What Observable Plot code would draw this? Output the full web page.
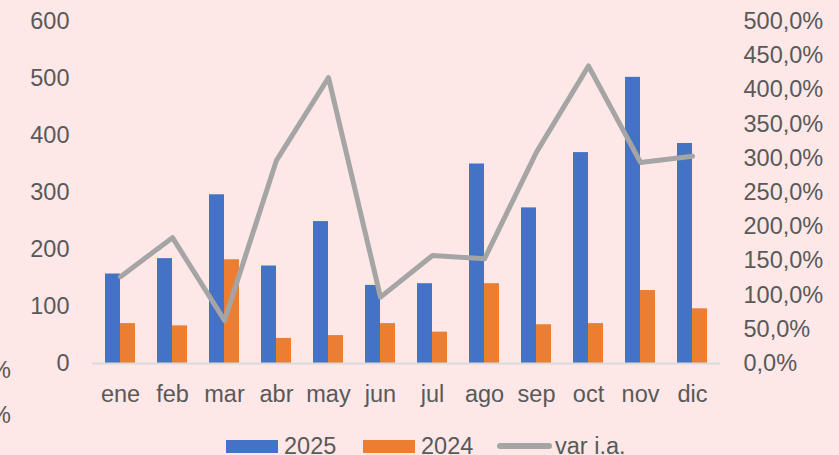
<!DOCTYPE html>
<html>
<head>
<meta charset="utf-8">
<script src="https://cdn.jsdelivr.net/npm/d3@7"></script>
<script src="https://cdn.jsdelivr.net/npm/@observablehq/plot@0.6"></script>
<style>
  html, body { margin: 0; padding: 0; background: #fde7e7; }
  #wrap { position: relative; width: 839px; height: 455px; overflow: hidden; background: #fde7e7; }
  #wrap svg { position: absolute; left: 0; top: 0; }
</style>
</head>
<body>
<div id="wrap"></div>
<script>
const months = ["ene","feb","mar","abr","may","jun","jul","ago","sep","oct","nov","dic"];
const v2025 = [157,184,296,171,249,137,140,350,273,370,502,386];
const v2024 = [70,66,182,44,49,70,55,140,68,70,128,96];
const varIA = [127,184,63,297,418,97,158,153,309,435,294,303];
const leftTicks = [0,100,200,300,400,500,600];
const rightTicks = [0,50,100,150,200,250,300,350,400,450,500];
const seriesNames = ["2025","2024","var i.a."];
const colors = ["#4472c4","#ed7d31","#a5a5a5"];

const ratio = 600 / 500; // right axis 0–500% shares the 0–600 range
const table = months.map((m, i) => ({month: m, v2025: v2025[i], v2024: v2024[i], varIA: varIA[i]}));
const FONT = "Liberation Sans, Arial, sans-serif";

const chart = Plot.plot({
  width: 839,
  height: 455,
  marginTop: 21,
  marginBottom: 92,
  marginLeft: 92,
  marginRight: 119,
  style: {background: "transparent", fontFamily: FONT, fontSize: "23.5px", color: "#595959", overflow: "visible"},
  x: {domain: months, paddingInner: 0.426, paddingOuter: 0.213, label: null},
  y: {domain: [0, 600], label: null},
  marks: [
    Plot.axisY(leftTicks, {anchor: "left", tickSize: 0, tickPadding: 23, label: null}),
    Plot.axisY(rightTicks.map(d => d * ratio), {
      anchor: "right", tickSize: 0, tickPadding: 23, label: null,
      tickFormat: d => (d / ratio).toFixed(1).replace(".", ",") + "%"
    }),
    Plot.axisX({tickSize: 0, tickPadding: 22, label: null}),
    Plot.barY(table, {x: "month", y: "v2025", fill: colors[0], insetRight: 15}),
    Plot.barY(table, {x: "month", y: "v2024", fill: colors[1], insetLeft: 15}),
    Plot.ruleY([0], {stroke: "#d9d9d9", strokeWidth: 2}),
    Plot.line(table, {x: "month", y: d => d.varIA * ratio, stroke: colors[2], strokeWidth: 5,
      strokeLinejoin: "round", strokeLinecap: "round"})
  ]
});

document.getElementById("wrap").appendChild(chart);

// legend and cut-off fragments
const svg = d3.select(chart);
const g = svg.append("g").attr("font-family", FONT).attr("font-size", 23.5).attr("fill", "#595959")
  .attr("text-anchor", "start");
// partial labels at the left edge (cut off in the original)
g.append("text").attr("x", 11).attr("y", 378).attr("text-anchor", "end").text("%");
g.append("text").attr("x", 11).attr("y", 423).attr("text-anchor", "end").text("%");

const leg = [
  {name: seriesNames[0], color: colors[0], x: 226, type: "rect"},
  {name: seriesNames[1], color: colors[1], x: 363, type: "rect"},
  {name: seriesNames[2], color: colors[2], x: 497, type: "line"}
];
leg.forEach(l => {
  if (l.type === "rect") {
    g.append("rect").attr("x", l.x).attr("y", 440).attr("width", 52).attr("height", 13).attr("fill", l.color);
  } else {
    g.append("line").attr("x1", l.x + 3).attr("x2", l.x + 52).attr("y1", 446).attr("y2", 446)
      .attr("stroke", l.color).attr("stroke-width", 6).attr("stroke-linecap", "round");
  }
  g.append("text").attr("x", l.x + 58).attr("y", 454).attr("text-anchor", "start").text(l.name);
});
</script>
</body>
</html>
